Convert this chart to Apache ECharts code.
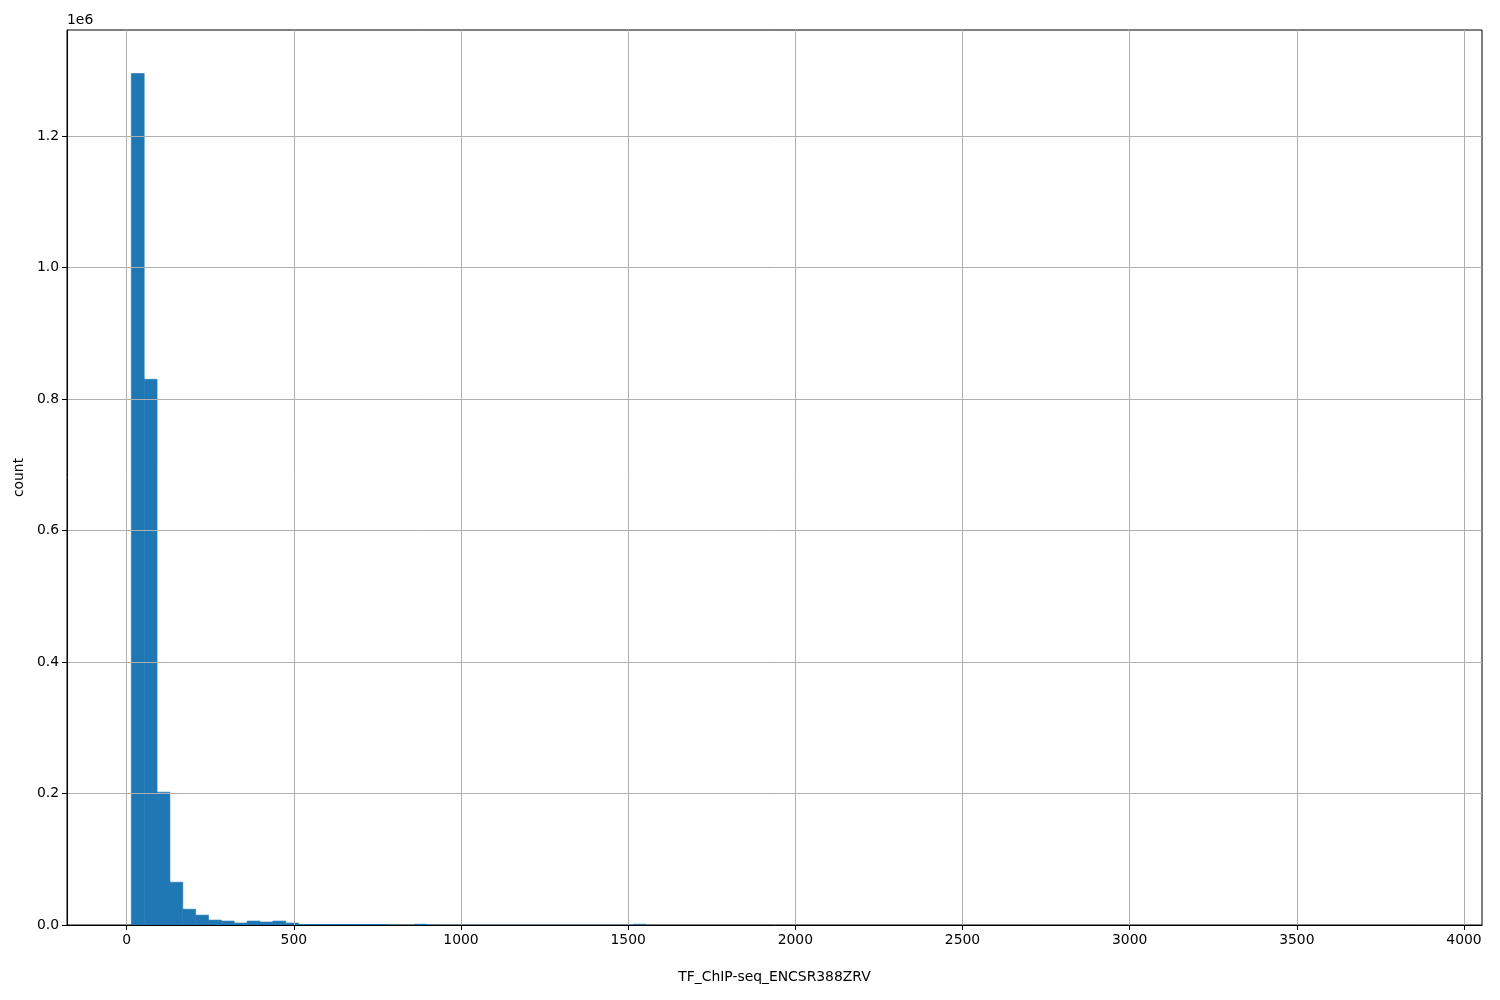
<!DOCTYPE html>
<html>
<head>
<meta charset="utf-8">
<script src="https://cdn.jsdelivr.net/npm/echarts@6/dist/echarts.min.js"></script>
<style>html,body{margin:0;padding:0;background:#fff;}#c{width:1500px;height:1000px;}</style>
</head>
<body>
<div id="c"></div>
<script>
// Histogram data
const binStart = 14;
const binWidth = 38.475;
const counts = [
  1295000, 830000, 202000, 65000, 24000, 15000, 7500, 6000, 3000, 6000,
  4500, 6000, 3000, 1500, 1500, 1500, 1500, 1500, 1500, 1500,
  300, 300, 1800, 300, 200, 200, 200, 200, 200, 200,
  200, 200, 200, 200, 200, 200, 200, 200, 200, 1800,
  100, 100, 100, 100, 100, 100, 100, 100, 100, 100,
  50, 50, 50, 50, 50, 50, 50, 50, 50, 50,
  50, 50, 50, 50, 50, 50, 50, 50, 50, 50,
  30, 30, 30, 30, 30, 30, 30, 30, 30, 30,
  30, 30, 30, 30, 30, 30, 30, 30, 30, 30,
  20, 20, 20, 20, 20, 20, 20, 20, 20, 50
];
const xTicks = [0, 500, 1000, 1500, 2000, 2500, 3000, 3500, 4000];
const yTicks = [0, 200000, 400000, 600000, 800000, 1000000, 1200000];
const xName = 'TF_ChIP-seq_ENCSR388ZRV';
const yName = 'count';

const data = counts.map((c, i) => [binStart + i * binWidth, binStart + (i + 1) * binWidth, c]);
const font = 'DejaVu Sans';

const chart = echarts.init(document.getElementById('c'), null, {renderer: 'canvas'});
chart.setOption({
  animation: false,
  backgroundColor: '#fff',
  grid: {left: 67, right: 18, top: 30, bottom: 75, show: true, borderColor: '#000', borderWidth: 1, backgroundColor: 'transparent'},
  xAxis: {
    type: 'value', min: -178.4, max: 4053.8, z: 3,
    name: xName, nameLocation: 'middle', nameGap: 45,
    nameTextStyle: {fontFamily: font, fontSize: 13.9, color: '#000'},
    axisLine: {show: true, onZero: false, lineStyle: {color: '#000', width: 1}},
    axisTick: {show: true, length: 5, customValues: xTicks, lineStyle: {color: '#000'}},
    axisLabel: {customValues: xTicks, fontFamily: font, fontSize: 13.9, color: '#000', margin: 8,
      formatter: v => String(v)},
    splitLine: {show: true, lineStyle: {color: '#b0b0b0', width: 1}}
  },
  yAxis: {
    type: 'value', min: 0, max: 1361200, z: 3,
    name: yName, nameLocation: 'middle', nameGap: 39, nameRotate: 90,
    nameTextStyle: {fontFamily: font, fontSize: 13.9, color: '#000'},
    axisLine: {show: true, onZero: false, lineStyle: {color: '#000', width: 1}},
    axisTick: {show: true, length: 5, customValues: yTicks, lineStyle: {color: '#000'}},
    axisLabel: {customValues: yTicks, fontFamily: font, fontSize: 13.9, color: '#000', margin: 8,
      formatter: v => (v / 1e6).toFixed(1)},
    splitLine: {show: true, lineStyle: {color: '#b0b0b0', width: 1}}
  },
  graphic: [{type: 'text', left: 67, top: 13, style: {text: '1e6', fontFamily: font, fontSize: 13.9, fill: '#000'}}],
  series: [{
    type: 'custom',
    z: 2,
    data: data,
    encode: {x: [0, 1], y: 2},
    renderItem: function (params, api) {
      const p0 = api.coord([api.value(0), api.value(2)]);
      const p1 = api.coord([api.value(1), 0]);
      const h = p1[1] - p0[1];
      const style = h >= 1.5 ? {fill: '#1f77b4', stroke: '#1f77b4', lineWidth: 0.6} : {fill: '#1f77b4'};
      return {type: 'rect', shape: {x: p0[0], y: p0[1], width: p1[0] - p0[0], height: h}, style: style};
    }
  }]
});
</script>
</body>
</html>
